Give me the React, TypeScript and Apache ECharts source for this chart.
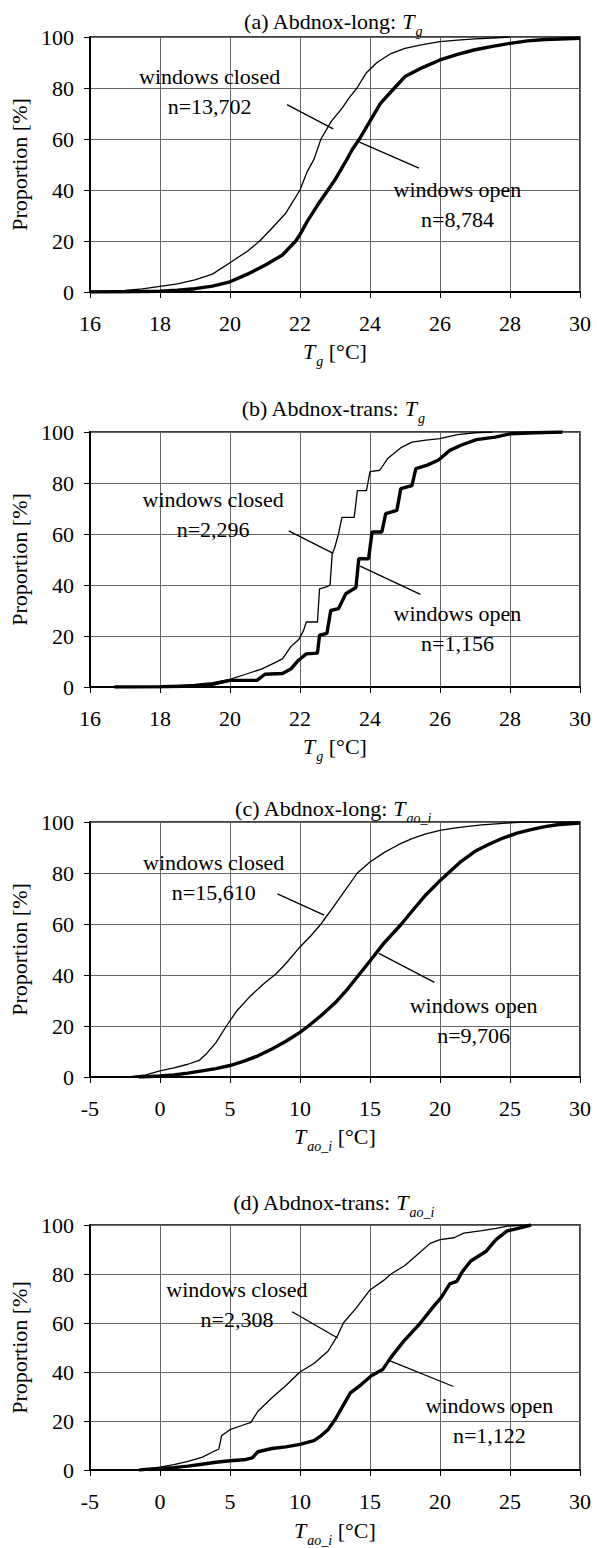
import React, { useEffect, useRef } from "react";
import * as echarts from "echarts";

const FONT = "Liberation Serif, Times New Roman, serif";

// ---------- (a) Abdnox-long: Tg ----------
const aClosedX = [16, 17, 17.5, 18, 18.5, 19, 19.5, 20, 20.5, 20.85, 21.2, 21.6, 22, 22.2, 22.4, 22.6, 22.9, 23.2, 23.4, 23.63, 23.9, 24.2, 24.6, 25, 25.5, 26, 26.5, 27, 27.5, 28];
const aClosedY = [0.2, 0.6, 1.2, 2.2, 3.2, 4.8, 7, 11.5, 16, 20, 25, 31, 40, 47, 52, 60, 67, 72, 76, 80, 86, 90, 93.5, 95.5, 97, 98.2, 98.8, 99.3, 99.6, 100];
const aOpenX = [16, 17, 18, 18.5, 19, 19.5, 20, 20.5, 21, 21.5, 21.88, 22, 22.2, 22.5, 22.8, 23, 23.3, 23.5, 23.7, 24, 24.3, 24.7, 25, 25.5, 26, 26.5, 27, 27.5, 28, 28.5, 29, 30];
const aOpenY = [0, 0.1, 0.3, 0.7, 1.3, 2.3, 4, 7, 10.5, 14.5, 20, 22.5, 27.5, 34, 40, 44, 51, 56, 60, 67, 74, 80, 84.5, 88, 91, 93.2, 95, 96.3, 97.5, 98.5, 99, 99.5];

// ---------- (b) Abdnox-trans: Tg ----------
const bClosedX = [16.7, 17.5, 18, 18.5, 19, 19.5, 20, 20.45, 20.9, 21.2, 21.5, 21.75, 21.96, 22.1, 22.18, 22.5, 22.56, 22.8, 22.86, 22.92, 23.0, 23.1, 23.2, 23.55, 23.64, 23.9, 24.0, 24.28, 24.5, 24.9, 25.2, 25.6, 26, 26.5, 27, 27.5];
const bClosedY = [0, 0.1, 0.2, 0.5, 1, 1.7, 3, 5, 7, 9, 11, 16, 18.5, 22, 25.5, 25.5, 38.5, 39.5, 40, 52, 55, 60, 66.5, 66.5, 77, 77, 84.5, 85, 89.5, 94, 96, 96.8, 97.4, 99, 99.7, 100];
const bOpenX = [16.7, 18, 19, 19.5, 20, 20.77, 21.0, 21.5, 21.75, 21.96, 22.18, 22.5, 22.56, 22.77, 22.88, 23.1, 23.31, 23.6, 23.68, 23.96, 24.06, 24.34, 24.45, 24.77, 24.88, 25.2, 25.31, 25.64, 25.96, 26.28, 26.6, 27.04, 27.58, 28, 28.7, 29.5];
const bOpenY = [0, 0.1, 0.4, 1, 2.6, 2.6, 5, 5.3, 7.2, 10.5, 13, 13.3, 20.3, 21, 30, 30.7, 36.6, 39, 50.3, 50.3, 60.8, 60.8, 68, 69.3, 77.8, 79, 85.6, 87, 89, 92.8, 94.8, 97, 98, 99.3, 99.7, 100];

// ---------- (c) Abdnox-long: Tao_i ----------
const cClosedX = [-2.6, -2, -1, 0, 1, 2, 2.8, 3.3, 4, 4.75, 5.5, 6.5, 7.5, 8.3, 9, 10, 10.8, 11.5, 12.3, 13.2, 14.1, 15, 16, 17, 18, 19, 20, 21, 22, 23, 24, 25, 26, 30];
const cClosedY = [0, 0.2, 0.8, 2.4, 3.6, 5, 6.5, 9, 13.5, 20, 26, 32, 37, 40.5, 44.5, 51, 55.5, 60, 66, 73, 80, 84.3, 88, 91, 93.5, 95.3, 96.7, 97.6, 98.3, 98.9, 99.3, 99.7, 100, 100];
const cOpenX = [-1.5, -1, 0, 1, 2, 3, 4, 5, 6, 7, 8, 9, 10, 10.6, 11.5, 12.5, 13.4, 14.2, 15, 16, 17.25, 18, 19, 20, 20.6, 21.5, 22.5, 23.5, 24.5, 25.5, 26.5, 27.5, 28.5, 30];
const cOpenY = [0, 0.1, 0.4, 0.8, 1.5, 2.4, 3.3, 4.5, 6.2, 8.3, 11, 14, 17.5, 20, 24, 29, 34.5, 40, 45.5, 52.5, 60, 65, 71.5, 77, 80, 84.5, 88.5, 91.3, 93.7, 95.6, 97, 98.2, 99, 99.6];

// ---------- (d) Abdnox-trans: Tao_i ----------
const dClosedX = [-2, -1, 0, 1, 2, 3, 3.8, 4.2, 4.4, 5, 6, 6.5, 7, 8, 9, 10, 11, 12, 12.7, 13.1, 14, 15, 16, 16.5, 17.5, 18.5, 19.3, 20, 21, 21.7, 23, 24, 24.8, 25.5, 26.5];
const dClosedY = [0, 0.4, 1.2, 2.2, 3.6, 5.2, 7.5, 8.5, 14, 16.5, 18.5, 19.5, 24, 29.5, 34.5, 40, 43.5, 48.5, 55, 60, 66, 73.5, 77.5, 80, 83.5, 88.5, 92.5, 94, 94.8, 96.7, 97.7, 98.6, 99.5, 99.8, 100];
const dOpenX = [-1.5, -1, 0, 1, 2, 3, 4, 5, 6, 6.6, 7, 8, 9, 10, 11, 11.5, 12, 12.5, 13, 13.6, 14.4, 15.1, 15.9, 16.5, 17.4, 18.6, 19.5, 20.1, 20.7, 21.2, 21.6, 22.2, 23.3, 24, 24.8, 25.5, 26.5];
const dOpenY = [0, 0.3, 0.7, 1, 1.6, 2.4, 3.2, 3.8, 4.2, 5, 7.5, 8.8, 9.5, 10.5, 12, 14, 16.5, 20.5, 25.5, 31.5, 35, 38.5, 41, 46, 52.5, 60, 66.5, 70.5, 76, 77, 81, 85.3, 89.3, 94, 97.6, 98.5, 100];

// ---------- axes ----------
const yTicks = [0, 20, 40, 60, 80, 100];
const xRangesTg = [16, 30, 2];
const xRangesTao = [-5, 30, 5];

// ---------- titles & notes ----------
const panelTitles = ["(a) Abdnox-long: ", "(b) Abdnox-trans: ", "(c) Abdnox-long: ", "(d) Abdnox-trans: "];
const panelSubs = ["g", "g", "ao_i", "ao_i"];
const closedNotes = ["windows closed\nn=13,702", "windows closed\nn=2,296", "windows closed\nn=15,610", "windows closed\nn=2,308"];
const openNotes = ["windows open\nn=8,784", "windows open\nn=1,156", "windows open\nn=9,706", "windows open\nn=1,122"];
const closedNotePos = [[19.42, 78.7], [19.52, 67.5], [3.84, 78.2], [5.5, 67.5]];
const openNotePos = [[26.5, 34.2], [26.5, 22.9], [22.4, 22.0], [23.53, 20.4]];
const closedLeaders = [[[21.63, 73.5], [22.95, 64.0]], [[21.68, 61.2], [22.95, 52.4]], [[8.39, 71.8], [11.73, 63.5]], [[9.44, 64.6], [12.69, 53.9]]];
const openLeaders = [[[23.7, 58.8], [25.4, 48.6]], [[23.72, 47.4], [25.44, 36.3]], [[15.64, 48.5], [19.6, 37.1]], [[16.35, 44.8], [20.96, 34.1]]];

const zip = (xs: number[], ys: number[]) => xs.map((x, i) => [x, ys[i]]);

const closedSeries = [zip(aClosedX, aClosedY), zip(bClosedX, bClosedY), zip(cClosedX, cClosedY), zip(dClosedX, dClosedY)];
const openSeries = [zip(aOpenX, aOpenY), zip(bOpenX, bOpenY), zip(cOpenX, cOpenY), zip(dOpenX, dOpenY)];
const xRanges = [xRangesTg, xRangesTg, xRangesTao, xRangesTao];

// layout
const grids = [
  { left: 86, top: 37, width: 494, height: 255 },
  { left: 86, top: 432, width: 494, height: 255 },
  { left: 86, top: 822, width: 494, height: 255 },
  { left: 87, top: 1225, width: 493, height: 249 },
];
const titleY = [21, 408, 808, 1202];

const richSub = {
  m: { fontSize: 22, fontFamily: FONT, color: "#000", lineHeight: 24 },
  i: { fontSize: 22, fontFamily: FONT, fontStyle: "italic", color: "#000", lineHeight: 24 },
  s: { fontSize: 14, fontFamily: FONT, fontStyle: "italic", color: "#000", lineHeight: 14, padding: [20, 0, 0, 1] },
};
const zrRich = {
  m: { fontSize: 22, fontFamily: FONT, fill: "#000", lineHeight: 24 },
  i: { fontSize: 22, fontFamily: FONT, fontStyle: "italic", fill: "#000", lineHeight: 24 },
  s: { fontSize: 14, fontFamily: FONT, fontStyle: "italic", fill: "#000", lineHeight: 14, padding: [20, 0, 0, 1] },
};

function buildOption() {
  const grid: any[] = [];
  const xAxis: any[] = [];
  const yAxis: any[] = [];
  const series: any[] = [];
  const graphic: any[] = [];
  for (let k = 0; k < 4; k++) {
    const g = grids[k];
    grid.push({ ...g, show: true, borderColor: "#000", borderWidth: 1.5, backgroundColor: "transparent" });
    const [mn, mx, iv] = xRanges[k];
    xAxis.push({
      gridIndex: k,
      type: "value",
      min: mn,
      max: mx,
      interval: iv,
      name: `{i|T}{s|${panelSubs[k]}}{m| [°C]}`,
      nameLocation: "middle",
      nameGap: 43,
      nameTextStyle: { rich: richSub },
      axisLine: { show: true, onZero: false, lineStyle: { color: "#000", width: 2 } },
      axisTick: { show: true, length: 6, lineStyle: { color: "#000", width: 1 } },
      axisLabel: { fontSize: 22, fontFamily: FONT, color: "#000", margin: 20 },
      splitLine: { show: true, lineStyle: { color: "#666", width: 1 } },
    });
    yAxis.push({
      gridIndex: k,
      type: "value",
      min: yTicks[0],
      max: yTicks[yTicks.length - 1],
      interval: 20,
      name: "Proportion [%]",
      nameLocation: "middle",
      nameGap: 52,
      nameTextStyle: { fontSize: 22, fontFamily: FONT, color: "#000" },
      axisLine: { show: true, onZero: false, lineStyle: { color: "#000", width: 2 } },
      axisTick: { show: true, length: 6, lineStyle: { color: "#000", width: 1 } },
      axisLabel: { fontSize: 22, fontFamily: FONT, color: "#000", margin: 16 },
      splitLine: { show: true, lineStyle: { color: "#666", width: 1 } },
    });
    series.push({
      type: "line",
      xAxisIndex: k,
      yAxisIndex: k,
      data: closedSeries[k],
      symbol: "none",
      lineStyle: { color: "#000", width: 1.3 },
      z: 3,
    });
    series.push({
      type: "line",
      xAxisIndex: k,
      yAxisIndex: k,
      data: openSeries[k],
      symbol: "none",
      lineStyle: { color: "#000", width: 3.4 },
      z: 4,
    });
    for (const ld of [closedLeaders[k], openLeaders[k]]) {
      series.push({
        type: "line",
        xAxisIndex: k,
        yAxisIndex: k,
        data: ld,
        symbol: "none",
        lineStyle: { color: "#000", width: 1.3 },
        z: 5,
        silent: true,
      });
    }
    series.push({
      type: "scatter",
      xAxisIndex: k,
      yAxisIndex: k,
      symbolSize: 1,
      itemStyle: { color: "rgba(0,0,0,0)" },
      silent: true,
      z: 6,
      label: {
        show: true,
        position: "inside",
        fontSize: 22,
        fontFamily: FONT,
        color: "#000",
        opacity: 1,
        textBorderWidth: 0,
        textBorderColor: "transparent",
        lineHeight: 30,
        align: "center",
        verticalAlign: "middle",
      },
      data: [
        { value: closedNotePos[k], label: { formatter: closedNotes[k] } },
        { value: openNotePos[k], label: { formatter: openNotes[k] } },
      ],
    });
    graphic.push({
      type: "text",
      x: g.left + g.width / 2,
      y: titleY[k],
      silent: true,
      style: {
        text: `{m|${panelTitles[k]}}{i|T}{s|${panelSubs[k]}}`,
        rich: zrRich,
        align: "center",
        verticalAlign: "middle",
      },
    });
  }
  return {
    animation: false,
    backgroundColor: "#fff",
    textStyle: { fontFamily: FONT, color: "#000" },
    grid,
    xAxis,
    yAxis,
    series,
    graphic,
  };
}

export default function App() {
  const ref = useRef<HTMLDivElement>(null);
  useEffect(() => {
    if (!ref.current) return;
    const chart = echarts.init(ref.current, undefined, { renderer: "svg" });
    chart.setOption(buildOption() as any);
    return () => chart.dispose();
  }, []);
  return (
    <div
      ref={ref}
      style={{ position: "absolute", left: 0, top: 0, width: 597, height: 1548, background: "#fff" }}
    />
  );
}
